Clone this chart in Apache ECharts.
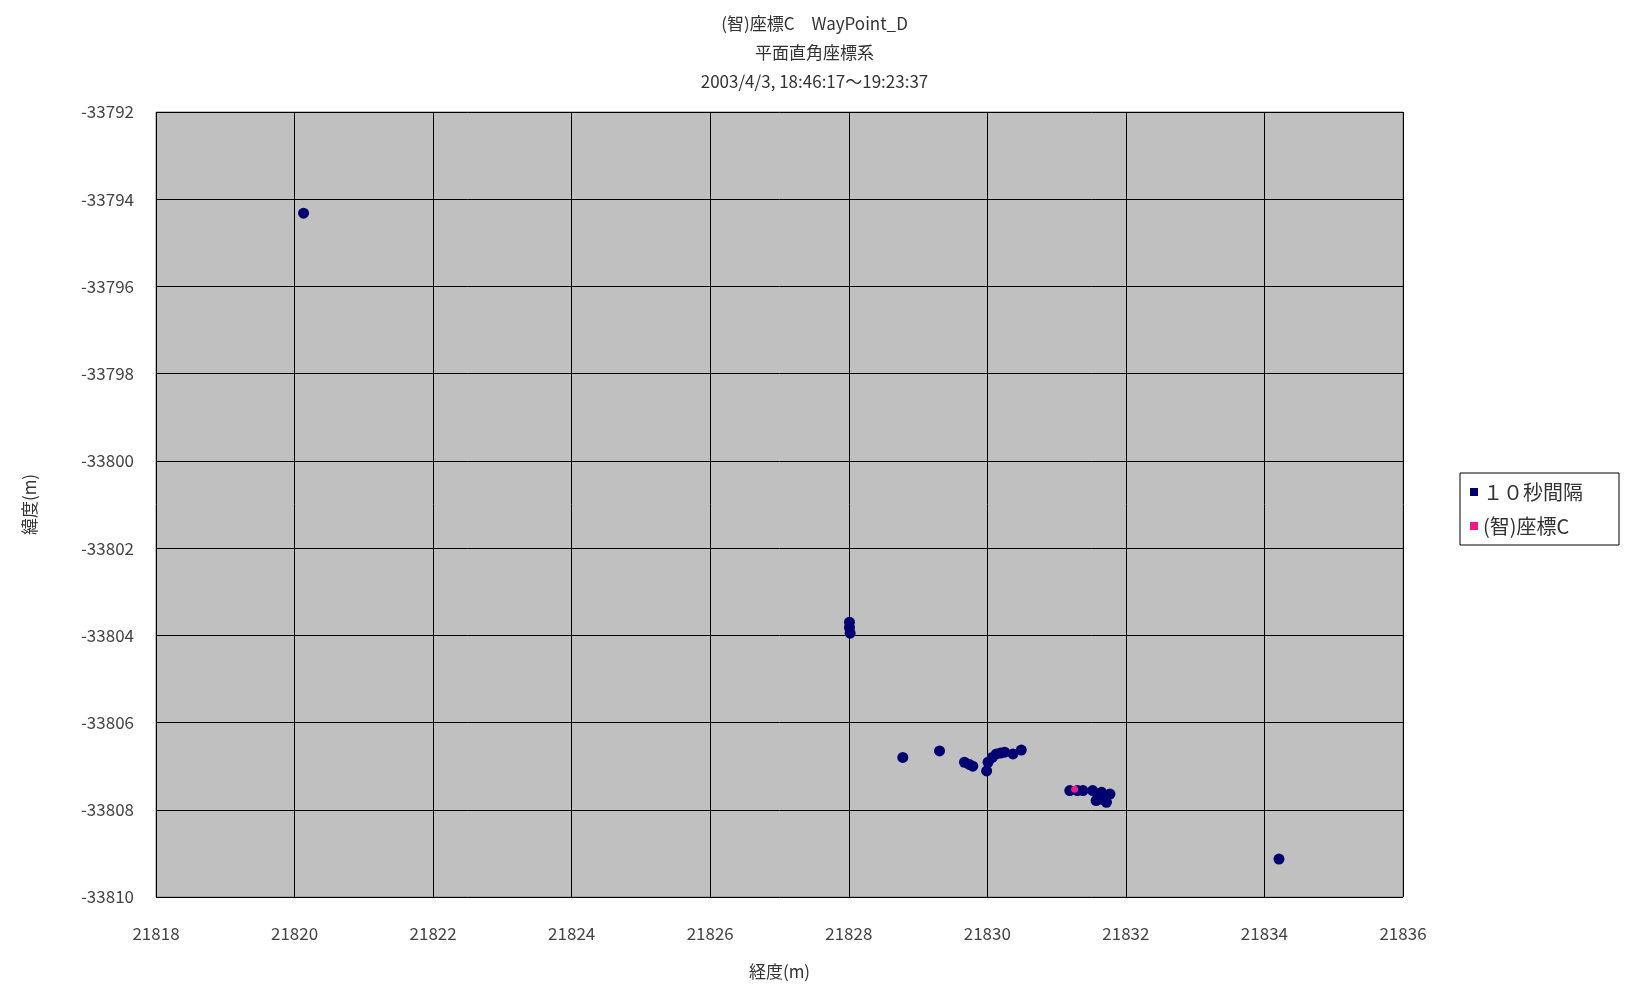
<!DOCTYPE html>
<html>
<head>
<meta charset="utf-8">
<script src="https://cdn.jsdelivr.net/npm/echarts@6/dist/echarts.min.js"></script>
<style>
html,body{margin:0;padding:0;background:#fff;}
#c{width:1629px;height:985px;}
</style>
</head>
<body>
<div id="c"></div>
<script>
// ---- data ----
const titleLines = ['(智)座標C\u3000WayPoint_D', '平面直角座標系', '2003/4/3, 18:46:17～19:23:37'];
const xAxisName = '経度(m)';
const yAxisName = '緯度(m)';
const seriesNames = ['１０秒間隔', '(智)座標C'];

// series 1: 10-second interval points
const s1X = [21820.13, 21828.01, 21828.01, 21828.02, 21828.78, 21829.31, 21829.67, 21829.74, 21829.79, 21829.99, 21830.01,
             21830.07, 21830.13, 21830.19, 21830.25, 21830.37, 21830.49, 21831.19, 21831.30, 21831.38, 21831.52, 21831.60,
             21831.65, 21831.77, 21831.57, 21831.66, 21831.72, 21834.21];
const s1Y = [-33794.32, -33803.70, -33803.82, -33803.95, -33806.80, -33806.65, -33806.91, -33806.96, -33807.00, -33807.11, -33806.91,
             -33806.80, -33806.72, -33806.70, -33806.68, -33806.72, -33806.63, -33807.56, -33807.56, -33807.56, -33807.56, -33807.70,
             -33807.60, -33807.64, -33807.79, -33807.76, -33807.83, -33809.13];
// series 2: (智)座標C
const s2X = [21831.26];
const s2Y = [-33807.53];

const xMin = 21818, xMax = 21836, xStep = 2;
const yMin = -33810, yMax = -33792, yStep = 2;

// ---- chart ----
const font = '"Noto Sans CJK JP", "Noto Sans", sans-serif';
const chart = echarts.init(document.getElementById('c'), null, {renderer: 'canvas'});
const zip = (xs, ys) => xs.map((x, i) => [x, ys[i]]);

chart.setOption({
  backgroundColor: '#ffffff',
  animation: false,
  title: titleLines.map((t, i) => ({
    text: t,
    left: 'center',
    top: 10 + i * 29,
    textStyle: {fontFamily: font, fontSize: 17, fontWeight: 'normal', color: '#333'}
  })),
  grid: {
    left: 156, right: 226, top: 112, bottom: 87,
    show: true, backgroundColor: '#c0c0c0', borderColor: '#7f7f7f', borderWidth: 1
  },
  legend: {
    orient: 'vertical',
    left: 1460, top: 473,
    padding: [9, 36, 9, 10],
    itemGap: 14,
    itemWidth: 8, itemHeight: 8,
    icon: 'rect',
    backgroundColor: '#ffffff',
    borderColor: '#000000', borderWidth: 1,
    textStyle: {fontFamily: font, fontSize: 20, color: '#333'},
    data: seriesNames
  },
  xAxis: {
    type: 'value', min: xMin, max: xMax, interval: xStep,
    name: xAxisName, nameLocation: 'middle', nameGap: 66,
    nameTextStyle: {fontFamily: font, fontSize: 17, color: '#333'},
    axisLine: {show: false},
    axisTick: {show: false},
    axisLabel: {fontFamily: font, fontSize: 17, color: '#444', margin: 28, formatter: v => String(v)},
    splitLine: {show: true, lineStyle: {color: '#000000', width: 1}}
  },
  yAxis: {
    type: 'value', min: yMin, max: yMax, interval: yStep,
    name: yAxisName, nameLocation: 'middle', nameGap: 118, nameRotate: 90,
    nameTextStyle: {fontFamily: font, fontSize: 17, color: '#333'},
    axisLine: {show: false},
    axisTick: {show: false},
    axisLabel: {fontFamily: font, fontSize: 17, color: '#444', margin: 22, formatter: v => String(v)},
    splitLine: {show: true, lineStyle: {color: '#000000', width: 1}}
  },
  series: [
    {
      name: seriesNames[0], type: 'scatter', symbol: 'circle', symbolSize: 11,
      itemStyle: {color: '#000070', opacity: 1},
      data: zip(s1X, s1Y)
    },
    {
      name: seriesNames[1], type: 'scatter', symbol: 'circle', symbolSize: 7,
      itemStyle: {color: '#f0198c', opacity: 1},
      data: zip(s2X, s2Y)
    }
  ]
});
</script>
</body>
</html>
